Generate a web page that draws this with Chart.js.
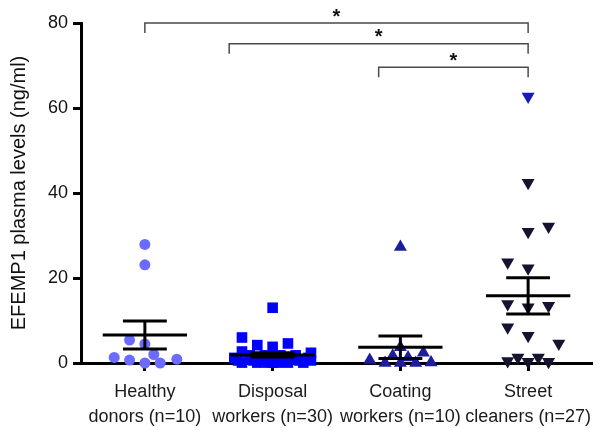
<!DOCTYPE html>
<html><head><meta charset="utf-8">
<script src="https://cdn.jsdelivr.net/npm/chart.js@4/dist/chart.umd.min.js"></script>
<style>html,body{margin:0;padding:0;background:#fff}#wrap{width:602px;height:428px}</style>
</head><body><div id="wrap"><canvas id="c" width="602" height="428"></canvas></div>
<script>
const categories = [["Healthy","donors (n=10)"],["Disposal","workers (n=30)"],["Coating","workers (n=10)"],["Street","cleaners (n=27)"]];
const yTicks = [0, 20, 40, 60, 80];

const healthyValues  = [27.9, 23.1, 5.4, 4.5, 1.3, 0.7, 2.0, 0.9, 0.0, 0.0];
const healthyOffsets = [0, 0, -0.12, 0, -0.24, -0.12, 0.07, 0.25, 0.12, 0];

const disposalValues  = [13.0, 6.0, 4.2, 3.8, 4.6, 2.7, 2.4,
  1.8, 1.8, 1.8, 1.8,
  1.2, 1.2, 1.2, 1.2, 1.2, 1.2,
  0.6, 0.6, 0.6, 0.6, 0.6, 0.6,
  0.1, 0.1, 0.1, 0.1, 0.1, 0.1, 0.1];
const disposalOffsets = [0, -0.24, -0.12, 0, 0.12, -0.24, 0.30,
  -0.18, -0.06, 0.06, 0.18,
  -0.30, -0.18, -0.06, 0.06, 0.18, 0.28,
  -0.27, -0.15, -0.03, 0.09, 0.21, 0.30,
  -0.24, -0.12, -0.04, 0.04, 0.12, 0.24, 0.0];

const coatingValues  = [27.3, 3.7, 2.4, 1.7, 1.3, 0.7, 0.0, 0.0, 0.0, 0.1];
const coatingOffsets = [0, 0, 0.18, -0.06, 0.06, -0.24, -0.12, 0, 0.12, 0.24];

const streetValues  = [62.7, 42.4, 30.9, 32.1, 23.7, 22.3, 13.9, 13.1, 13.5, 8.4, 6.4, 4.6, 0.5, 1.3, 0.3, 1.3, 0.3];
const streetOffsets = [0, 0, 0, 0.16, -0.16, 0, -0.16, 0, 0.16, -0.16, 0, 0.24, -0.16, -0.08, 0, 0.08, 0.16];

const groupMeans = [6.6, 1.9, 3.7, 15.8];
const groupSEM   = [3.3, 0.5, 2.65, 4.25];

const bracketFrom  = [1, 1.66, 2.83];
const bracketTo    = [4, 4, 4];
const bracketLevel = [80, 75.1, 69.6];
const bracketMark  = ["*", "*", "*"];

function pts(vals, offs, cat) { return vals.map((v, i) => ({ x: cat + offs[i], y: v })); }

const overlay = {
  id: 'overlay',
  afterDatasetsDraw(chart) {
    const { ctx, scales: { x, y } } = chart;
    ctx.save();
    ctx.strokeStyle = '#000';
    ctx.lineWidth = 3;
    ctx.lineCap = 'butt';
    groupMeans.forEach((m, i) => {
      const cx = x.getPixelForValue(i + 1);
      const half = (x.getPixelForValue(1.5) - x.getPixelForValue(1)) * 0.66;
      const cap = half * 0.52;
      const ym = y.getPixelForValue(m);
      const yt = y.getPixelForValue(m + groupSEM[i]);
      const yb = y.getPixelForValue(Math.max(0, m - groupSEM[i]));
      ctx.beginPath();
      ctx.moveTo(cx - half, ym); ctx.lineTo(cx + half, ym);
      ctx.moveTo(cx - cap, yt); ctx.lineTo(cx + cap, yt);
      ctx.moveTo(cx - cap, yb); ctx.lineTo(cx + cap, yb);
      ctx.moveTo(cx, yt); ctx.lineTo(cx, yb);
      ctx.stroke();
    });
    ctx.restore();
  },
  afterDraw(chart) {
    const { ctx, scales: { x, y } } = chart;
    ctx.save();
    ctx.strokeStyle = '#4a4a4a';
    ctx.lineWidth = 1.5;
    ctx.fillStyle = '#111';
    ctx.font = 'bold 20px "Liberation Sans", Arial, sans-serif';
    ctx.textAlign = 'center';
    ctx.textBaseline = 'middle';
    bracketFrom.forEach((f, i) => {
      const x1 = x.getPixelForValue(f), x2 = x.getPixelForValue(bracketTo[i]);
      const yy = y.getPixelForValue(bracketLevel[i]);
      ctx.beginPath();
      ctx.moveTo(x1, yy + 10); ctx.lineTo(x1, yy); ctx.lineTo(x2, yy); ctx.lineTo(x2, yy + 10);
      ctx.stroke();
      ctx.fillText(bracketMark[i], (x1 + x2) / 2, yy - 6);
    });
    ctx.restore();
  }
};

new Chart(document.getElementById('c'), {
  type: 'scatter',
  data: {
    datasets: [
      { data: pts(healthyValues, healthyOffsets, 1), pointStyle: 'circle', pointRadius: 5.5, backgroundColor: '#6b6bff', borderWidth: 0, clip: false },
      { data: pts(disposalValues, disposalOffsets, 2), pointStyle: 'rect', pointRadius: 7.5, backgroundColor: '#0000ff', borderWidth: 0, clip: false },
      { data: pts(coatingValues, coatingOffsets, 3), pointStyle: 'triangle', pointRadius: 7.5, backgroundColor: '#1c1c9c', borderWidth: 0, clip: false },
      { data: pts(streetValues, streetOffsets, 4), pointStyle: 'triangle', rotation: 180, pointRotation: 180, pointRadius: 7.5,
        backgroundColor: (c) => c.dataIndex === 0 ? '#1a1ab8' : '#141430', borderWidth: 0, clip: false }
    ]
  },
  options: {
    responsive: false,
    devicePixelRatio: 1,
    animation: false,
    layout: { padding: { top: 23, right: 10, left: 0, bottom: 0 } },
    plugins: { legend: { display: false }, tooltip: { enabled: false } },
    scales: {
      x: {
        type: 'linear', min: 0.5, max: 4.5,
        afterBuildTicks: (s) => { s.ticks = categories.map((c, i) => ({ value: i + 1 })); },
        afterFit: (s) => { s.height = 65; },
        ticks: { callback: (v) => categories[v - 1], color: '#1a1a1a', font: { family: '"Liberation Sans", Arial, sans-serif', size: 18, lineHeight: 1.38 }, padding: 9, maxRotation: 0, autoSkip: false },
        grid: { drawOnChartArea: false, drawTicks: true, tickLength: 8, tickWidth: 3, tickColor: '#000' },
        border: { display: true, width: 3, color: '#000' }
      },
      y: {
        min: 0, max: 80,
        afterBuildTicks: (s) => { s.ticks = yTicks.map(v => ({ value: v })); },
        afterFit: (s) => { s.width = 81; },
        ticks: { color: '#111', font: { family: '"Liberation Sans", Arial, sans-serif', size: 18 }, padding: 5 },
        grid: { drawOnChartArea: false, drawTicks: true, tickLength: 8, tickWidth: 3, tickColor: '#000' },
        border: { display: true, width: 3, color: '#000' },
        title: { display: true, text: 'EFEMP1 plasma levels (ng/ml)', color: '#111', font: { family: '"Liberation Sans", Arial, sans-serif', size: 20 }, padding: { top: 7, bottom: 0 } }
      }
    }
  },
  plugins: [overlay]
});
</script>
</body></html>
